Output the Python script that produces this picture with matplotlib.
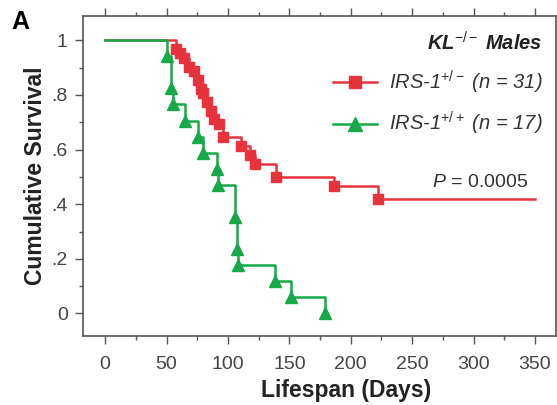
import matplotlib

matplotlib.use("Agg")
import matplotlib.pyplot as plt
from matplotlib.lines import Line2D
from matplotlib.ticker import MultipleLocator, FixedFormatter, FixedLocator

# Kaplan-Meier steps (day of death, survival after it)
het_days = [0, 58, 61, 64, 68, 72, 76, 78, 80, 83, 86, 89, 93, 96, 111, 118, 122, 139, 186, 222, 350]
het_surv = [1.0, 0.968, 0.952, 0.935, 0.903, 0.887, 0.855, 0.823, 0.806, 0.774, 0.742, 0.71,
            0.694, 0.645, 0.613, 0.581, 0.548, 0.5, 0.465, 0.419, 0.419]
wt_days = [0, 50, 54, 55, 65, 76, 80, 91, 92, 106, 107, 108, 138, 151, 179]
wt_surv = [1.0, 0.941, 0.824, 0.765, 0.706, 0.647, 0.588, 0.529, 0.471, 0.353, 0.235, 0.176,
           0.118, 0.059, 0.0]

y_ticks = [0, 0.2, 0.4, 0.6, 0.8, 1.0]
y_labels = ["0", ".2", ".4", ".6", ".8", "1"]
x_ticks = [0, 50, 100, 150, 200, 250, 300, 350]

RED = "#e8323c"
GREEN = "#17a84a"

plt.rcParams["font.family"] = ["Liberation Sans", "DejaVu Sans"]
plt.rcParams["mathtext.fontset"] = "custom"
plt.rcParams["mathtext.rm"] = "Liberation Sans"
plt.rcParams["mathtext.it"] = "Liberation Sans:italic"
plt.rcParams["mathtext.bf"] = "Liberation Sans:bold"
plt.rcParams["mathtext.bfit"] = "Liberation Sans:bold:italic"

fig = plt.figure(figsize=(5.57, 4.05), dpi=100)
ax = fig.add_axes([0.149, 0.170, 0.849, 0.790])

ax.step(het_days, het_surv, where="post", color=RED, lw=1.8, zorder=2)
ax.plot(het_days[1:-1], het_surv[1:-1], "s", color=RED, ms=7, zorder=3)
ax.step(wt_days, wt_surv, where="post", color=GREEN, lw=1.8, zorder=4)
ax.plot(wt_days[1:], wt_surv[1:], "^", color=GREEN, ms=9, zorder=5)

ax.set_xlim(-18, 367)
ax.set_ylim(-0.083, 1.088)
ax.xaxis.set_major_locator(FixedLocator(x_ticks))
ax.xaxis.set_minor_locator(MultipleLocator(25))
ax.yaxis.set_major_locator(FixedLocator(y_ticks))
ax.yaxis.set_major_formatter(FixedFormatter(y_labels))
ax.yaxis.set_minor_locator(MultipleLocator(0.1))
ax.tick_params(which="both", direction="out", top=True, color="#555555", width=1.0)
ax.tick_params(which="major", length=6, labelsize=14, labelcolor="#444444")
ax.tick_params(axis="x", which="major", pad=8)
ax.tick_params(axis="y", which="major", pad=5)
ax.tick_params(which="minor", length=3)
for sp in ax.spines.values():
    sp.set_color("#555555")
    sp.set_linewidth(1.2)

ax.set_xlabel("Lifespan (Days)", fontsize=16.5, fontweight="bold", color="#222222")
ax.xaxis.set_label_coords(0.556, -0.135)
ax.set_ylabel("Cumulative Survival", fontsize=16.5, fontweight="bold", color="#222222", labelpad=3)

handles = [
    Line2D([], [], color=RED, lw=1.8, marker="s", ms=9),
    Line2D([], [], color=GREEN, lw=1.8, marker="^", ms=10),
]
labels = [r"IRS-1$^{+/-}$ (n = 31)", r"IRS-1$^{+/+}$ (n = 17)"]
leg = ax.legend(handles, labels, loc="upper right", bbox_to_anchor=(0.998, 0.99),
                frameon=False, prop={"size": 14.5, "style": "italic"}, handlelength=2.2,
                labelspacing=0.7, handletextpad=0.6, borderaxespad=0.2,
                title=r"$\mathbfit{KL}^{-/-}$ Males",
                title_fontproperties={"size": 14.5, "weight": "bold", "style": "italic"},
                alignment="right")
for t in leg.get_texts():
    t.set_color("#333333")
leg.get_title().set_color("#222222")

ax.text(344, 0.448, r"$\mathit{P}$ = 0.0005", fontsize=14, color="#333333", ha="right", va="bottom")

fig.text(0.036, 0.945, "A", fontsize=18, fontweight="bold", ha="center", va="center")

fig.savefig("out.png", dpi=100)
